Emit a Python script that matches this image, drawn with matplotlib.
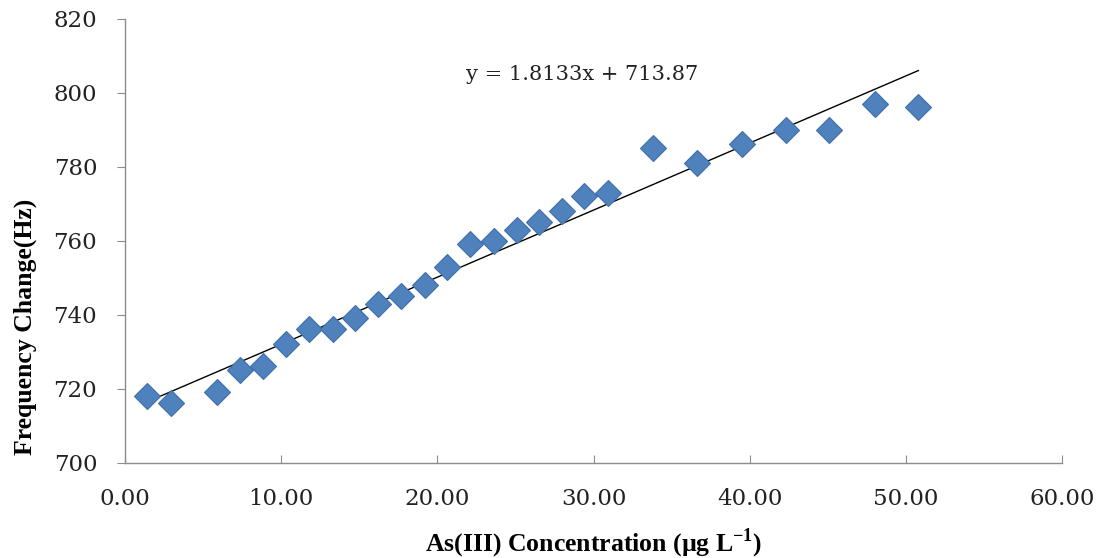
import numpy as np
import matplotlib.pyplot as plt

plt.rcParams['mathtext.fontset'] = 'custom'
plt.rcParams['mathtext.rm'] = 'Liberation Serif:bold'
plt.rcParams['mathtext.bf'] = 'Liberation Serif:bold'

# concentration (ug/L) and frequency change (Hz)
conc = [1.4, 2.95, 5.9, 7.35, 8.85, 10.3, 11.8, 13.3, 14.75, 16.2, 17.7, 19.2,
        20.6, 22.1, 23.6, 25.1, 26.5, 28.0, 29.4, 30.9, 33.8, 36.6, 39.5,
        42.3, 45.1, 48.0, 50.8]
freq = [718, 716, 719, 725, 726, 732, 736, 736, 739, 743, 745, 748,
        753, 759, 760, 763, 765, 768, 772, 773, 785, 781, 786,
        790, 790, 797, 796]

slope = 1.8133
intercept = 713.87
xticks = [0, 10, 20, 30, 40, 50, 60]
yticks = [700, 720, 740, 760, 780, 800, 820]

fig = plt.figure(figsize=(11.04, 5.58), dpi=100)
ax = fig.add_axes([0.1132, 0.1708, 0.8488, 0.7957])

# linear trend line over the data range
xs = np.array([conc[0], conc[-1]])
ax.plot(xs, slope * xs + intercept, color='black', lw=1.0, zorder=2)
ax.plot(conc, freq, 'D', ms=13, color='#4F81BD', mec='#3F6FAA', mew=0.8,
        zorder=3)

ax.set_xlim(0, 60)
ax.set_ylim(700, 820)
ax.set_xticks(xticks)
ax.set_xticklabels(['%.2f' % v for v in xticks])
ax.set_yticks(yticks)

for s in ['top', 'right']:
    ax.spines[s].set_visible(False)
for s in ['left', 'bottom']:
    ax.spines[s].set_color('#8c8c8c')
    ax.spines[s].set_linewidth(1.0)

tick_font = 'DejaVu Serif'
ax.tick_params(axis='y', direction='out', length=6, color='#8c8c8c',
               labelsize=16.5, pad=14)
ax.tick_params(axis='x', direction='in', length=6, color='#8c8c8c',
               labelsize=16.5, pad=18)
for lab in ax.get_xticklabels() + ax.get_yticklabels():
    lab.set_fontfamily(tick_font)
    lab.set_color('#222222')

ax.set_xlabel(r'As(III) Concentration (µg L$^{-1}$)',
              fontfamily='Liberation Serif', fontweight='bold', fontsize=18.5,
              va='center')
ax.set_ylabel('Frequency Change(Hz)', fontfamily='Liberation Serif',
              fontweight='bold', fontsize=18.5, va='center')
ax.xaxis.set_label_coords(0.5, -0.181)
ax.yaxis.set_label_coords(-0.1067, 0.306)

ax.text(0.364, 0.875, 'y = 1.8133x + 713.87', transform=ax.transAxes,
        fontfamily='DejaVu Serif', fontsize=15, color='#222222',
        ha='left', va='center')

fig.savefig('out.png', dpi=100)
